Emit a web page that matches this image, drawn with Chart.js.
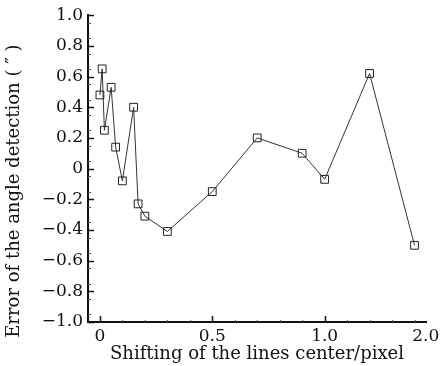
<!DOCTYPE html>
<html>
<head>
<meta charset="utf-8">
<script src="https://cdn.jsdelivr.net/npm/chart.js@4/dist/chart.umd.min.js"></script>
<style>
  html, body { margin: 0; padding: 0; background: #fff; }
  #wrap { width: 446px; height: 366px; }
</style>
</head>
<body>
<div id="wrap"><canvas id="chart" width="446" height="366"></canvas></div>
<script>
// shift of the line centre (pixel) and the measured angle error (arcsec)
var shiftValues = [0, 0.01, 0.02, 0.05, 0.07, 0.1, 0.15, 0.17, 0.2, 0.3, 0.5, 0.7, 0.9, 1.0, 1.2, 1.4];
var errorValues = [0.48, 0.65, 0.25, 0.53, 0.14, -0.08, 0.40, -0.23, -0.31, -0.41, -0.15, 0.20, 0.10, -0.07, 0.62, -0.50];

var xTickValues = [0, 0.5, 1.0, 1.45];
var xTickLabels = ['0', '0.5', '1.0', '2.0'];
var yTickValues = [1.0, 0.8, 0.6, 0.4, 0.2, 0, -0.2, -0.4, -0.6, -0.8, -1.0];
var yTickLabels = ['1.0', '0.8', '0.6', '0.4', '0.2', '0', '\u22120.2', '\u22120.4', '\u22120.6', '\u22120.8', '\u22121.0'];

var FONT = 'DejaVu Serif';

(function () {
    var points = shiftValues.map(function (x, i) { return { x: x, y: errorValues[i] }; });

    // tick marks point into the plot, like the original figure
    var inwardTicks = {
        id: 'inwardTicks',
        afterDraw: function (chart) {
            var ctx = chart.ctx;
            var area = chart.chartArea;
            var xs = chart.scales.x;
            var ys = chart.scales.y;
            ctx.save();
            ctx.strokeStyle = '#111';
            ctx.lineWidth = 1.5;
            ctx.beginPath();
            yTickValues.forEach(function (v) {
                var py = Math.round(ys.getPixelForValue(v)) + 0.5;
                ctx.moveTo(area.left, py);
                ctx.lineTo(area.left + 6, py);
            });
            [0, 0.5, 1.0].forEach(function (v) {
                var px = Math.round(xs.getPixelForValue(v)) + 0.5;
                ctx.moveTo(px, area.bottom);
                ctx.lineTo(px, area.bottom - 6);
            });
            ctx.stroke();

            ctx.lineWidth = 1;
            ctx.strokeStyle = '#555';
            ctx.beginPath();
            for (var k = -19; k < 20; k += 2) {
                var py2 = Math.round(ys.getPixelForValue(k * 0.05)) + 0.5;
                ctx.moveTo(area.left, py2);
                ctx.lineTo(area.left + 3, py2);
            }
            for (var j = 1; j <= 14; j++) {
                if (j % 5 === 0) continue;
                var px2 = Math.round(xs.getPixelForValue(j * 0.1)) + 0.5;
                ctx.moveTo(px2, area.bottom);
                ctx.lineTo(px2, area.bottom - 2);
            }
            ctx.stroke();
            ctx.restore();
        }
    };

    new Chart(document.getElementById('chart').getContext('2d'), {
        type: 'scatter',
        data: {
            datasets: [{
                data: points,
                showLine: true,
                borderColor: '#333',
                borderWidth: 1,
                pointStyle: 'rect',
                pointRadius: 5.5,
                pointBorderWidth: 1,
                pointBorderColor: '#222',
                pointBackgroundColor: 'rgba(0,0,0,0)',
                tension: 0
            }]
        },
        options: {
            responsive: false,
            animation: false,
            events: [],
            layout: { padding: { top: 14, right: 20, left: 0, bottom: 0 } },
            plugins: { legend: { display: false }, tooltip: { enabled: false } },
            scales: {
                x: {
                    type: 'linear',
                    min: -0.053,
                    max: 1.451,
                    grid: { display: false, drawTicks: false },
                    border: { display: true, color: '#111', width: 2 },
                    afterBuildTicks: function (scale) {
                        scale.ticks = xTickValues.map(function (v) { return { value: v }; });
                    },
                    afterFit: function (scale) { scale.height = 44; },
                    ticks: {
                        autoSkip: false,
                        maxRotation: 0,
                        padding: 4,
                        color: '#111',
                        font: { family: FONT, size: 17 },
                        callback: function (value, index) { return xTickLabels[index]; }
                    },
                    title: {
                        display: true,
                        text: 'Shifting of the lines center/pixel',
                        color: '#111',
                        font: { family: FONT, size: 18 },
                        padding: { top: 0, bottom: 1 }
                    }
                },
                y: {
                    type: 'linear',
                    min: -1,
                    max: 1,
                    grid: { display: false, drawTicks: false },
                    border: { display: true, color: '#111', width: 2 },
                    afterBuildTicks: function (scale) {
                        scale.ticks = yTickValues.map(function (v) { return { value: v }; });
                    },
                    afterFit: function (scale) { scale.width = 88; },
                    ticks: {
                        autoSkip: false,
                        padding: 5,
                        color: '#111',
                        font: { family: FONT, size: 17 },
                        callback: function (value, index) { return yTickLabels[index]; }
                    },
                    title: {
                        display: true,
                        // trailing spaces nudge the centred title down a little
                        text: 'Error of the angle detection ( \u2033 )\u2003\u2003\u2002',
                        color: '#111',
                        font: { family: FONT, size: 18 },
                        padding: { top: 4, bottom: 4 }
                    }
                }
            }
        },
        plugins: [inwardTicks]
    });
})();
</script>
</body>
</html>
